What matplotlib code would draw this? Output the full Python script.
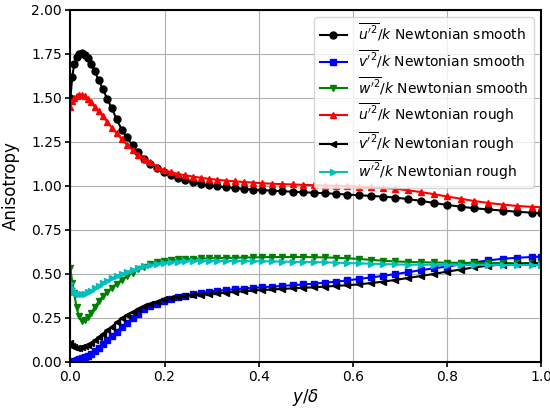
import matplotlib
matplotlib.use("Agg")
import matplotlib.pyplot as plt

y_delta = [0.000, 0.004, 0.008, 0.013, 0.018, 0.024, 0.030, 0.037, 0.044, 0.052,
           0.060, 0.069, 0.078, 0.088, 0.098, 0.109, 0.120, 0.132, 0.144, 0.157,
           0.170, 0.184, 0.198, 0.213, 0.228, 0.244, 0.260, 0.277, 0.294, 0.312,
           0.330, 0.349, 0.368, 0.388, 0.408, 0.429, 0.450, 0.472, 0.494, 0.517,
           0.540, 0.564, 0.588, 0.613, 0.638, 0.664, 0.690, 0.717, 0.744, 0.772,
           0.800, 0.829, 0.858, 0.888, 0.918, 0.949, 0.980, 1.000]

u_smooth = [1.50, 1.62, 1.69, 1.73, 1.75, 1.755, 1.745, 1.725, 1.69, 1.65,
            1.60, 1.55, 1.495, 1.44, 1.38, 1.32, 1.275, 1.23, 1.19, 1.155,
            1.125, 1.10, 1.078, 1.06, 1.045, 1.032, 1.02, 1.01, 1.003, 0.997,
            0.992, 0.987, 0.983, 0.979, 0.976, 0.973, 0.970, 0.967, 0.964, 0.961,
            0.958, 0.955, 0.951, 0.947, 0.943, 0.939, 0.934, 0.925, 0.915, 0.903,
            0.892, 0.882, 0.873, 0.866, 0.860, 0.853, 0.848, 0.845]

v_smooth = [0.0, 0.002, 0.006, 0.011, 0.016, 0.022, 0.028, 0.036, 0.046, 0.062,
            0.082, 0.103, 0.125, 0.148, 0.172, 0.198, 0.224, 0.250, 0.275, 0.298,
            0.316, 0.332, 0.347, 0.358, 0.368, 0.377, 0.385, 0.392, 0.399, 0.404,
            0.409, 0.413, 0.417, 0.421, 0.425, 0.428, 0.432, 0.436, 0.440, 0.445,
            0.450, 0.456, 0.463, 0.472, 0.480, 0.489, 0.499, 0.510, 0.521, 0.532,
            0.542, 0.554, 0.566, 0.577, 0.586, 0.592, 0.596, 0.598]

w_smooth = [0.532, 0.45, 0.39, 0.31, 0.26, 0.235, 0.238, 0.255, 0.28, 0.31,
            0.345, 0.373, 0.397, 0.42, 0.443, 0.466, 0.487, 0.506, 0.527, 0.542,
            0.555, 0.565, 0.573, 0.578, 0.582, 0.585, 0.587, 0.588, 0.589, 0.590,
            0.591, 0.592, 0.593, 0.594, 0.595, 0.596, 0.596, 0.596, 0.596, 0.595,
            0.594, 0.592, 0.589, 0.585, 0.580, 0.575, 0.571, 0.568, 0.566, 0.565,
            0.564, 0.563, 0.563, 0.562, 0.562, 0.561, 0.561, 0.561]

u_rough = [1.45, 1.48, 1.50, 1.51, 1.517, 1.518, 1.51, 1.495, 1.475, 1.45,
           1.425, 1.395, 1.365, 1.33, 1.30, 1.265, 1.235, 1.205, 1.178, 1.155,
           1.135, 1.11, 1.09, 1.078, 1.068, 1.06, 1.053, 1.046, 1.04, 1.035,
           1.03, 1.026, 1.022, 1.019, 1.015, 1.012, 1.01, 1.008, 1.006, 1.004,
           1.002, 1.0, 0.998, 0.995, 0.992, 0.988, 0.984, 0.975, 0.965, 0.953,
           0.94, 0.927, 0.914, 0.903, 0.894, 0.886, 0.881, 0.879]

v_rough = [0.106, 0.092, 0.084, 0.079, 0.079, 0.083, 0.089, 0.097, 0.107, 0.122,
           0.14, 0.16, 0.18, 0.20, 0.225, 0.248, 0.266, 0.284, 0.301, 0.316,
           0.33, 0.343, 0.355, 0.362, 0.368, 0.374, 0.378, 0.382, 0.386, 0.39,
           0.394, 0.398, 0.402, 0.406, 0.409, 0.412, 0.415, 0.418, 0.421, 0.424,
           0.428, 0.432, 0.436, 0.441, 0.448, 0.456, 0.466, 0.477, 0.488, 0.50,
           0.513, 0.525, 0.537, 0.547, 0.553, 0.557, 0.56, 0.561]

w_rough = [0.447, 0.42, 0.40, 0.39, 0.386, 0.385, 0.388, 0.395, 0.403, 0.418,
           0.433, 0.448, 0.462, 0.475, 0.487, 0.499, 0.51, 0.522, 0.533, 0.543,
           0.551, 0.558, 0.563, 0.567, 0.57, 0.572, 0.573, 0.574, 0.574, 0.574,
           0.574, 0.573, 0.573, 0.572, 0.572, 0.571, 0.57, 0.569, 0.568, 0.567,
           0.566, 0.564, 0.562, 0.56, 0.558, 0.556, 0.554, 0.553, 0.552, 0.552,
           0.551, 0.551, 0.551, 0.551, 0.551, 0.551, 0.551, 0.551]

labels = [r"$\overline{u'^2}/k$ Newtonian smooth",
          r"$\overline{v'^2}/k$ Newtonian smooth",
          r"$\overline{w'^2}/k$ Newtonian smooth",
          r"$\overline{u'^2}/k$ Newtonian rough",
          r"$\overline{v'^2}/k$ Newtonian rough",
          r"$\overline{w'^2}/k$ Newtonian rough"]

series = [u_smooth, v_smooth, w_smooth, u_rough, v_rough, w_rough]
colors = ['k', 'b', 'g', 'r', 'k', 'c']
markers = ['o', 's', 'v', '^', '<', '>']

fig = plt.figure(figsize=(5.5, 4.09), dpi=100)
ax = fig.add_axes([0.128, 0.115, 0.856, 0.861])
for vals, c, m, lab in zip(series, colors, markers, labels):
    ax.plot(y_delta, vals, color=c, marker=m, markersize=5, linewidth=1.5, label=lab)

ax.set_xlim(0, 1)
ax.set_ylim(0, 2)
ax.set_yticks([0, 0.25, 0.5, 0.75, 1.0, 1.25, 1.5, 1.75, 2.0])
ax.set_xticks([0, 0.2, 0.4, 0.6, 0.8, 1.0])
ax.grid(True, color='#b0b0b0', linewidth=0.8)
ax.tick_params(labelsize=10, length=3.5, width=1.2, pad=2.5)
for s in ax.spines.values():
    s.set_linewidth(1.5)
ax.set_xlabel(r"$y/\delta$", fontsize=12, labelpad=2)
ax.set_ylabel("Anisotropy", fontsize=12, labelpad=8)
ax.legend(loc='upper right', fontsize=10, handlelength=2.0, labelspacing=0.4)
fig.savefig("out.png", dpi=100)
